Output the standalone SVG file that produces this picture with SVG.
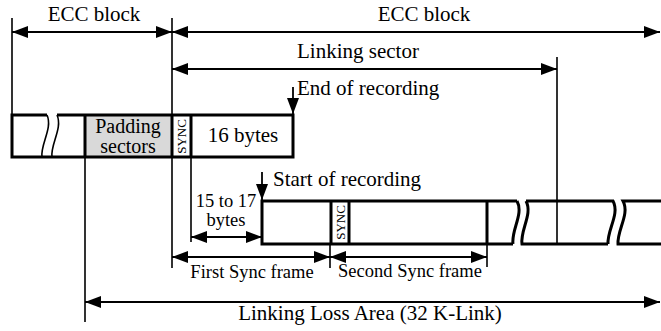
<svg xmlns="http://www.w3.org/2000/svg" width="661" height="331" viewBox="0 0 661 331" font-family="Liberation Serif, DejaVu Serif, serif">
<defs>
<marker id="ah" viewBox="0 0 16 12" refX="16" refY="6" markerWidth="16" markerHeight="12" markerUnits="userSpaceOnUse" orient="auto-start-reverse"><path d="M0 0 L16 6 L0 12 Z" fill="#000"/></marker>
</defs>
<style>
text{font-family:'Liberation Serif','Times New Roman','DejaVu Serif',serif;fill:#000}
.t{font-size:21px}
.p{font-size:20px}
.s{font-size:18.5px}
.v{font-size:13px}
.bar{fill:none;stroke:#000;stroke-width:3;stroke-linejoin:miter}
.thin{fill:none;stroke:#000;stroke-width:1.6}
.dim{fill:none;stroke:#000;stroke-width:1.8;marker-start:url(#ah);marker-end:url(#ah)}
.one{fill:none;stroke:#000;stroke-width:1.8;marker-end:url(#ah)}
</style>
<rect width="661" height="331" fill="#fff"/>

<g id="top-record">
<rect x="85" y="115" width="87" height="42" fill="#d9d9d9"/>
<path class="bar" d="M47 115 H12 V157 H293 V115 H57"/>
<path class="thin" d="M47 115 C53 128, 40 145, 42 157 M57 115 C63 128, 50 145, 52 157"/>
<path class="bar" d="M85 115 V157 M172 115 V157 M191 115 V157"/>
<text class="p" x="128" y="133" text-anchor="middle">Padding</text>
<text class="p" x="128" y="153" text-anchor="middle">sectors</text>
<text class="v" transform="translate(186 136.5) rotate(-90)" text-anchor="middle">SYNC</text>
<text class="t" x="243" y="142" text-anchor="middle">16 bytes</text>
</g>

<g id="bottom-record">
<path class="bar" d="M517 201 H262 V244 H513 M517 201 C524 214, 511 230, 513 244"/>
<path class="bar" d="M526 201 C533 214, 520 230, 522 244 H608 M526 201 H613 C620 214, 607 230, 608 244"/>
<path class="bar" d="M661 201 H623 C630 214, 617 230, 618 244 H661"/>
<path class="bar" d="M331 201 V244 M349 201 V244 M487 201 V244"/>
<text class="v" transform="translate(344.5 222.5) rotate(-90)" text-anchor="middle">SYNC</text>
</g>

<g id="connectors">
<path class="thin" d="M12 18 V115 M172 18 V268 M557 57 V244 M85 157 V322 M191 157 V242 M330 244 V268 M487 244 V267"/>
<path class="dim" d="M12 32 H172"/>
<path class="dim" d="M172 32 H660"/>
<path class="dim" d="M172 69 H557"/>
<path class="one" d="M293 87 V114"/>
<path class="one" d="M262 172 V200"/>
<path class="dim" d="M191 237 H262"/>
<path class="dim" d="M172 257 H330"/>
<path class="dim" d="M330 257 H487"/>
<path class="dim" d="M85 302 H660"/>
</g>

<g id="labels">
<text class="t" x="94" y="21" text-anchor="middle">ECC block</text>
<text class="t" x="424" y="21" text-anchor="middle">ECC block</text>
<text class="t" x="358" y="58" text-anchor="middle">Linking sector</text>
<text class="t" x="297" y="95">End of recording</text>
<text class="t" x="273" y="186">Start of recording</text>
<text class="s" x="226" y="207" text-anchor="middle">15 to 17</text>
<text class="s" x="226" y="226" text-anchor="middle">bytes</text>
<text class="s" x="252" y="278" text-anchor="middle">First Sync frame</text>
<text class="s" x="410" y="277" text-anchor="middle">Second Sync frame</text>
<text class="t" x="370" y="320" text-anchor="middle">Linking Loss Area (32 K-Link)</text>
</g>
</svg>
